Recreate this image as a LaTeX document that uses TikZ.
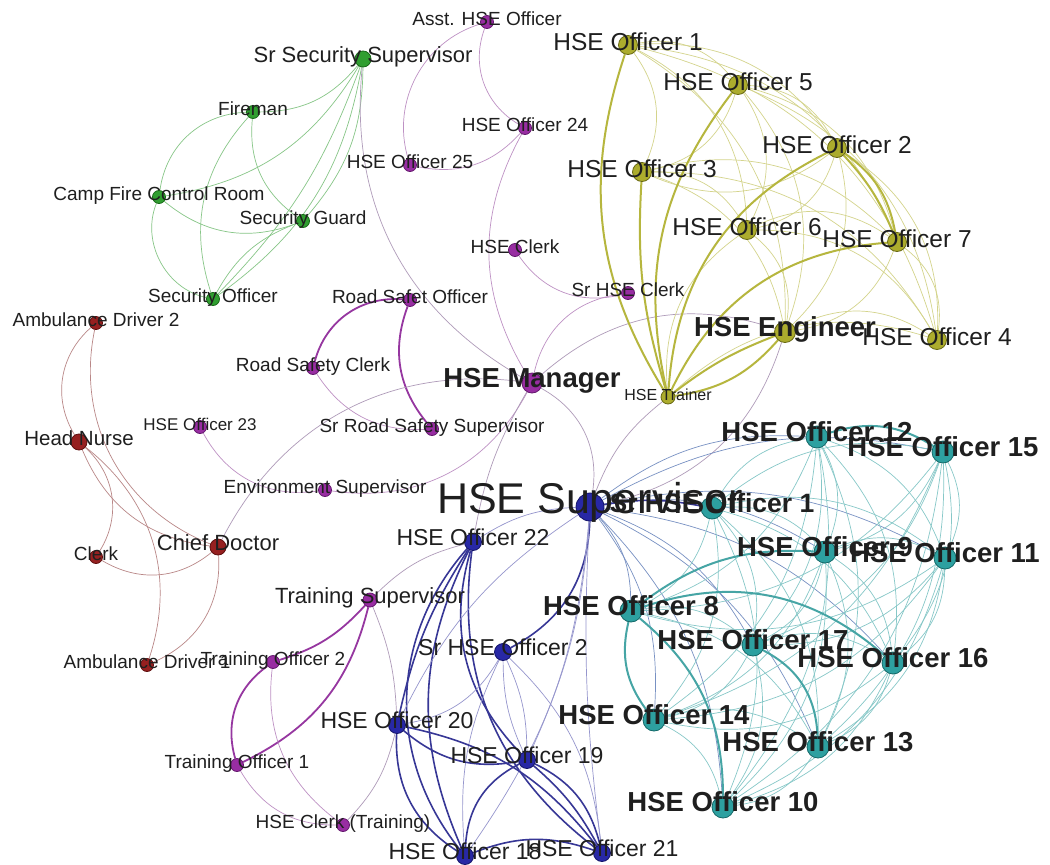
\documentclass[tikz,border=0pt]{standalone}
\usepackage{fontspec}
\setmainfont{Liberation Sans}
\usetikzlibrary{backgrounds}
\definecolor{cgreen}{RGB}{48,158,48}
\definecolor{cgreenD}{RGB}{25,105,25}
\definecolor{cgreenE}{RGB}{135,198,135}
\definecolor{cpurp}{RGB}{152,45,162}
\definecolor{cpurpD}{RGB}{100,25,110}
\definecolor{cpurpE}{RGB}{190,145,196}
\definecolor{cpurpT}{RGB}{150,55,160}
\definecolor{cred}{RGB}{150,32,32}
\definecolor{credD}{RGB}{95,15,15}
\definecolor{credE}{RGB}{185,135,135}
\definecolor{colive}{RGB}{172,172,45}
\definecolor{coliveD}{RGB}{105,105,20}
\definecolor{coliveE}{RGB}{212,212,140}
\definecolor{coliveT}{RGB}{182,182,62}
\definecolor{cblue}{RGB}{40,40,165}
\definecolor{cblueD}{RGB}{20,20,105}
\definecolor{cblueE}{RGB}{150,150,205}
\definecolor{cblueT}{RGB}{55,55,150}
\definecolor{cteal}{RGB}{45,160,160}
\definecolor{ctealD}{RGB}{20,105,105}
\definecolor{ctealE}{RGB}{135,200,200}
\definecolor{ctealT}{RGB}{70,165,165}
\definecolor{cmix}{RGB}{175,155,185}
\definecolor{cbt}{RGB}{120,145,195}
\begin{document}
\begin{tikzpicture}[x=1pt,y=-1pt,
  dot/.style={circle,inner sep=0pt,line width=0.8pt},
  gn/.style={dot,fill=cgreen,draw=cgreenD,minimum size=#1},gn/.default=13pt,
  pn/.style={dot,fill=cpurp,draw=cpurpD,minimum size=#1},pn/.default=13pt,
  rn/.style={dot,fill=cred,draw=credD,minimum size=#1},rn/.default=13pt,
  on/.style={dot,fill=colive,draw=coliveD,minimum size=#1},on/.default=19pt,
  bn/.style={dot,fill=cblue,draw=cblueD,minimum size=#1},bn/.default=17pt,
  tn/.style={dot,fill=cteal,draw=ctealD,minimum size=#1},tn/.default=22pt,
  lab/.style={text=black!88,inner sep=0pt,anchor=base},
  ls/.style={lab,font=\fontsize{19}{20}\selectfont,yshift=-3pt},
  lm/.style={lab,font=\fontsize{22}{23}\selectfont,yshift=-3.5pt},
  lb/.style={lab,font=\fontsize{23}{24}\selectfont,yshift=-3pt},
  lo/.style={lab,font=\fontsize{24.5}{26}\selectfont,yshift=-5pt},
  lt/.style={lab,font=\fontsize{27.5}{29}\selectfont\bfseries,yshift=-4pt},
  lh/.style={lab,font=\fontsize{43}{45}\selectfont,yshift=-6pt},
  eg/.style={draw=cgreenE,line width=0.7pt},
  ep/.style={draw=cpurpE,line width=0.7pt},
  epT/.style={draw=cpurpT,line width=1.8pt},
  er/.style={draw=credE,line width=0.7pt},
  eo/.style={draw=coliveE,line width=0.7pt},
  eoT/.style={draw=coliveT,line width=2pt},
  eb/.style={draw=cblueE,line width=0.7pt},
  ebT/.style={draw=cblueT,line width=1.6pt},
  et/.style={draw=ctealE,line width=0.7pt},
  etT/.style={draw=ctealT,line width=2pt},
  ex/.style={draw=cmix,line width=0.7pt},
  ebt/.style={draw=cbt,line width=0.7pt}
]
\useasboundingbox (0,0) rectangle (1050,865);
% ---------- nodes ----------
% green
\node[gn=16pt] (srsec) at (363,59) {};
\node[gn] (fireman) at (253,112) {};
\node[gn] (campfire) at (159,197) {};
\node[gn] (secguard) at (303,221) {};
\node[gn] (secoff) at (213,299) {};
% purple
\node[pn] (asst) at (487,22) {};
\node[pn] (o24) at (525,128) {};
\node[pn] (o25) at (410,165) {};
\node[pn] (hseclerk) at (515,250) {};
\node[pn] (srhseclerk) at (628,293) {};
\node[pn] (rso) at (410,300) {};
\node[pn] (rsc) at (313,368) {};
\node[pn=20pt] (manager) at (532,383) {};
\node[pn] (o23) at (200,427) {};
\node[pn] (srroad) at (432,429) {};
\node[pn] (envsup) at (325,490) {};
\node[pn=14pt] (trsup) at (370,600) {};
\node[pn] (to2) at (273,662) {};
\node[pn] (to1) at (237,765) {};
\node[pn] (hct) at (343,825) {};
% red
\node[rn] (amb2) at (96,323) {};
\node[rn=16pt] (headnurse) at (79,442) {};
\node[rn=16pt] (chiefdoc) at (218,547) {};
\node[rn] (clerk) at (96,557) {};
\node[rn] (amb1) at (147,665) {};
% olive
\node[on] (o1) at (628,45) {};
\node[on] (o5) at (738,85) {};
\node[on] (o2) at (837,148) {};
\node[on] (o3) at (642,172) {};
\node[on] (o6) at (747,230) {};
\node[on] (o7) at (897,242) {};
\node[on=21pt] (eng) at (785,332) {};
\node[on] (o4) at (937,340) {};
\node[on=14pt] (tr) at (668,397) {};
% blue
\node[bn=28pt] (sup) at (590,507) {};
\node[bn] (o22) at (473,542) {};
\node[bn] (sro2) at (503,652) {};
\node[bn] (o20) at (397,725) {};
\node[bn] (o19) at (527,760) {};
\node[bn] (o18) at (465,856) {};
\node[bn] (o21) at (602,853) {};
% teal
\node[tn] (t1) at (712,508) {};
\node[tn] (t12) at (817,437) {};
\node[tn] (t15) at (943,452) {};
\node[tn] (t9) at (825,552) {};
\node[tn] (t11) at (945,558) {};
\node[tn] (t8) at (631,611) {};
\node[tn] (t17) at (753,645) {};
\node[tn] (t16) at (893,663) {};
\node[tn] (t14) at (654,720) {};
\node[tn] (t13) at (818,747) {};
\node[tn] (t10) at (723,807) {};
% ---------- edges ----------
\begin{scope}[on background layer]
\fill[white] (0,0) rectangle (1050,865);
% green
\draw[eg] (fireman) to[bend right=25] (srsec);
\draw[eg] (campfire) to[bend right=25] (srsec);
\draw[eg] (srsec) to[bend left=20] (secguard);
\draw[eg] (srsec) to[bend left=12] (secoff);
\draw[eg] (srsec) to[bend left=22] (secoff);
\draw[eg] (fireman) to[bend right=40] (campfire);
\draw[eg] (fireman) to[bend right=30] (secguard);
\draw[eg] (fireman) to[bend right=30] (secoff);
\draw[eg] (campfire) to[bend right=30] (secguard);
\draw[eg] (campfire) to[bend right=50] (secoff);
\draw[eg] (secguard) to[bend right=20] (secoff);
% purple
\draw[ex] (srsec) to[bend right=33] (manager);
\draw[ep] (asst) to[bend right=45] (o25);
\draw[ep] (asst) to[bend right=40] (o24);
\draw[ep] (o25) to[bend right=30] (o24);
\draw[ep] (o24) to[bend right=30] (manager);
\draw[ep] (hseclerk) to[bend right=35] (srhseclerk);
\draw[ep] (srhseclerk) to[bend right=35] (manager);
\draw[ex] (manager) to[bend left=30] (eng);
\draw[ex] (manager) to[bend left=35] (sup);
\draw[epT] (rso) to[bend right=40] (rsc);
\draw[epT] (rso) to[bend right=30] (srroad);
\draw[ep] (rsc) to[bend right=30] (srroad);
\draw[ep] (o23) to[bend right=35] (envsup);
\draw[ep] (envsup) to[bend right=35] (manager);
\draw[ex] (chiefdoc) to[bend left=35] (manager);
\draw[ex] (manager) to[bend right=10] (o22);
% training
\draw[epT] (to2) to[bend right=15] (trsup);
\draw[epT] (to1) to[bend right=25] (trsup);
\draw[epT] (to2) to[bend right=35] (to1);
\draw[ep] (to2) to[bend right=30] (hct);
\draw[ep] (to1) to[bend right=30] (hct);
\draw[ex] (trsup) to[bend left=10] (o20);
\draw[ex] (hct) to[bend right=15] (o20);
\draw[ex] (trsup) to[bend left=15] (o22);
% red
\draw[er] (amb2) to[bend right=40] (headnurse);
\draw[er] (amb2) to[bend right=40] (chiefdoc);
\draw[er] (clerk) to[bend right=40] (headnurse);
\draw[er] (headnurse) to[bend right=30] (chiefdoc);
\draw[er] (amb1) to[bend right=35] (headnurse);
\draw[er] (clerk) to[bend right=35] (chiefdoc);
\draw[er] (amb1) to[bend right=35] (chiefdoc);
% olive thin
\foreach \a/\b in {o1/o5,o1/o2,o1/o3,o1/o6,o1/o7,o1/eng,o1/o4,
  o5/o2,o5/o3,o5/o6,o5/o7,o5/eng,o5/o4,
  o2/o3,o2/o6,o2/eng,o2/o4,
  o3/o6,o3/o7,o3/eng,o3/o4,
  o6/o7,o6/eng,o6/o4,
  o7/eng,o7/o4,eng/o4,tr/o6,tr/o4}
  \draw[eo] (\a) to[bend left=30] (\b);
% olive thick
\draw[eoT] (tr) to[bend left=25] (o1);
\draw[eoT] (tr) to[bend left=10] (o3);
\draw[eoT] (tr) to[bend left=25] (o5);
\draw[eoT] (tr) to[bend left=30] (o2);
\draw[eoT] (tr) to[bend left=30] (o7);
\draw[eoT] (tr) to[bend left=8] (eng);
\draw[eoT] (tr) to[bend right=20] (eng);
\draw[eoT] (o2) to[bend left=10] (o7);
\draw[eoT] (o2) to[bend left=22] (o7);
\draw[ex] (eng) to[bend left=30] (sup);
\draw[ex] (tr) to[bend right=15] (sup);
% blue
\draw[ebT] (sro2) to[bend right=30] (sup);
\draw[eb] (o22) to[bend left=15] (sup);
\draw[ebT] (o22) to[bend right=10] (o20);
\draw[ebT] (o22) to[bend right=40] (o18);
\draw[ebT] (o22) to[bend right=25] (o18);
\draw[ebT] (o22) to[bend right=30] (o19);
\draw[ebT] (o22) to[bend right=30] (o21);
\draw[eb] (sup) to[bend right=5] (o21);
\draw[eb] (sup) to[bend left=15] (o18);
\draw[eb] (sup) to[bend left=10] (o19);
\draw[eb] (sup) to[bend right=15] (o20);
\draw[eb] (sro2) to[bend left=25] (o20);
\draw[eb] (sro2) to[bend right=12] (o19);
\draw[eb] (sro2) to[bend left=12] (o19);
\draw[eb] (sro2) to[bend left=20] (o21);
\draw[eb] (sro2) to[bend right=15] (o18);
\draw[ebT] (o20) to[bend right=25] (o19);
\draw[ebT] (o20) to[bend right=30] (o18);
\draw[ebT] (o20) to[bend left=20] (o21);
\draw[ebT] (o19) to[bend right=30] (o18);
\draw[ebT] (o19) to[bend left=25] (o21);
\draw[ebT] (o19) to[bend left=10] (o21);
\draw[ebT] (o18) to[bend left=20] (o21);
% supervisor to teal
\foreach \b in {t12,t15,t9,t11,t8,t17,t16,t14,t13,t10}
  \draw[ebt] (sup) to[bend left=20] (\b);
\draw[ebT] (sup) to[bend left=10] (t1);
% teal thin
\foreach \a/\b in {t1/t12,t1/t15,t1/t9,t1/t11,t1/t8,t1/t17,t1/t16,t1/t14,t1/t13,t1/t10,
  t12/t15,t12/t9,t12/t11,t12/t8,t12/t17,t12/t16,t12/t14,t12/t13,t12/t10,
  t15/t9,t15/t11,t15/t8,t15/t17,t15/t16,t15/t14,t15/t13,t15/t10,
  t9/t11,t9/t17,t9/t16,t9/t14,t9/t13,t9/t10,
  t11/t8,t11/t17,t11/t16,t11/t14,t11/t13,t11/t10,
  t8/t17,t8/t13,
  t17/t16,t17/t14,t17/t10,
  t16/t14,t16/t13,t16/t10,
  t14/t13,t14/t10,t13/t10}
  \draw[et] (\a) to[bend left=25] (\b);
% teal thick
\draw[etT] (t8) to[bend left=30] (t16);
\draw[etT] (t8) to[bend left=25] (t10);
\draw[etT] (t17) to[bend left=30] (t13);
\draw[etT] (t8) to[bend left=20] (t9);
\draw[etT] (t12) to[bend left=25] (t15);
\draw[etT] (t8) to[bend right=25] (t14);
\end{scope}
% ---------- labels ----------
\node[ls] (l-asst) at (asst) {Asst. HSE Officer};
\node[lm] (l-srsec) at (srsec) {Sr Security Supervisor};
\node[ls] (l-fireman) at (fireman) {Fireman};
\node[ls] (l-campfire) at (campfire) {Camp Fire Control Room};
\node[ls] (l-secguard) at (secguard) {Security Guard};
\node[ls] (l-secoff) at (secoff) {Security Officer};
\node[ls] (l-o24) at (o24) {HSE Officer 24};
\node[ls] (l-o25) at (o25) {HSE Officer 25};
\node[ls] (l-hseclerk) at (hseclerk) {HSE Clerk};
\node[ls] (l-srhseclerk) at (srhseclerk) {Sr HSE Clerk};
\node[ls] (l-rso) at (rso) {Road Safet Officer};
\node[ls] (l-rsc) at (rsc) {Road Safety Clerk};
\node[lt] (l-manager) at (manager) {HSE Manager};
\node[lab,font=\fontsize{17}{18}\selectfont,yshift=-3pt] (l-o23) at (o23) {HSE Officer 23};
\node[ls] (l-srroad) at (srroad) {Sr Road Safety Supervisor};
\node[ls] (l-envsup) at (envsup) {Environment Supervisor};
\node[lm] (l-trsup) at (trsup) {Training Supervisor};
\node[ls] (l-amb1) at (amb1) {Ambulance Driver 1};
\node[ls] (l-to2) at (to2) {Training Officer 2};
\node[ls] (l-to1) at (to1) {Training Officer 1};
\node[ls] (l-hct) at (hct) {HSE Clerk (Training)};
\node[ls] (l-amb2) at (amb2) {Ambulance Driver 2};
\node[lab,font=\fontsize{20.5}{22}\selectfont,yshift=-3pt] (l-headnurse) at (headnurse) {Head Nurse};
\node[lm] (l-chiefdoc) at (chiefdoc) {Chief Doctor};
\node[ls] (l-clerk) at (clerk) {Clerk};
\node[lo] (l-o1) at (o1) {HSE Officer 1};
\node[lo] (l-o5) at (o5) {HSE Officer 5};
\node[lo] (l-o3) at (o3) {HSE Officer 3};
\node[lo] (l-o2) at (o2) {HSE Officer 2};
\node[lo] (l-o6) at (o6) {HSE Officer 6};
\node[lo] (l-o7) at (o7) {HSE Officer 7};
\node[lt] (l-eng) at (eng) {HSE Engineer};
\node[lo] (l-o4) at (o4) {HSE Officer 4};
\node[lab,font=\fontsize{16}{17}\selectfont,yshift=-3pt] (l-tr) at (tr) {HSE Trainer};
\node[lh] (l-sup) at (sup) {HSE Supervisor};
\node[lb] (l-o22) at (o22) {HSE Officer 22};
\node[lb] (l-sro2) at (sro2) {Sr HSE Officer 2};
\node[lb] (l-o20) at (o20) {HSE Officer 20};
\node[lb] (l-o19) at (o19) {HSE Officer 19};
\node[lb] (l-o18) at (o18) {HSE Officer 18};
\node[lb] (l-o21) at (o21) {HSE Officer 21};
\node[lt] (l-t12) at (t12) {HSE Officer 12};
\node[lt] (l-t15) at (t15) {HSE Officer 15};
\node[lab,font=\fontsize{26.5}{28}\selectfont\bfseries,yshift=-4pt] (l-t1) at (t1) {Sr HSE Officer 1};
\node[lt] (l-t9) at (t9) {HSE Officer 9};
\node[lt] (l-t11) at (t11) {HSE Officer 11};
\node[lt] (l-t8) at (t8) {HSE Officer 8};
\node[lt] (l-t17) at (t17) {HSE Officer 17};
\node[lt] (l-t16) at (t16) {HSE Officer 16};
\node[lt] (l-t14) at (t14) {HSE Officer 14};
\node[lt] (l-t13) at (t13) {HSE Officer 13};
\node[lt] (l-t10) at (t10) {HSE Officer 10};
\end{tikzpicture}
\end{document}
